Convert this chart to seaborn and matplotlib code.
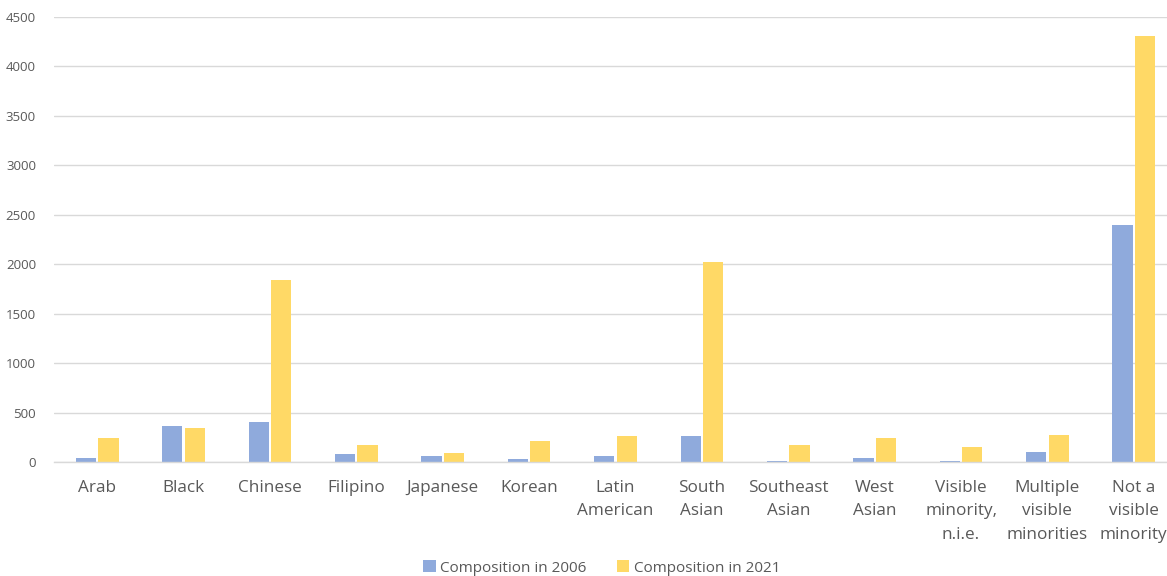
import matplotlib
matplotlib.use("Agg")
import matplotlib.pyplot as plt
import seaborn as sns
import pandas as pd

categories = ["Arab", "Black", "Chinese", "Filipino", "Japanese", "Korean",
              "Latin\nAmerican", "South\nAsian", "Southeast\nAsian", "West\nAsian",
              "Visible\nminority,\nn.i.e.", "Multiple\nvisible\nminorities",
              "Not a\nvisible\nminority"]
comp_2006 = [45, 360, 400, 77, 64, 33, 64, 263, 13, 43, 13, 97, 2400]
comp_2021 = [245, 340, 1845, 168, 87, 209, 263, 2020, 168, 243, 148, 276, 4310]
series_names = ["Composition in 2006", "Composition in 2021"]
y_ticks = [0, 500, 1000, 1500, 2000, 2500, 3000, 3500, 4000, 4500]

df = pd.DataFrame({
    "category": categories * 2,
    "value": comp_2006 + comp_2021,
    "series": [series_names[0]] * len(categories) + [series_names[1]] * len(categories),
})

sns.set_theme(style="white")
plt.rcParams["font.family"] = ["Open Sans", "DejaVu Sans"]

fig = plt.figure(figsize=(11.67, 5.76), dpi=100)
ax = fig.add_axes([54 / 1167, 1 - 462 / 576, (1177 - 54) / 1167, (462 - 17) / 576])

sns.barplot(data=df, x="category", y="value", hue="series",
            palette=["#8FAADC", "#FFD966"], width=0.52, gap=0.1,
            ax=ax, legend=True, saturation=1, linewidth=0)

ax.set_ylim(0, 4500)
ax.set_yticks(y_ticks)
ax.set_xlim(-0.5, len(categories) - 0.5)
ax.yaxis.grid(True, color="#D9D9D9", linewidth=1)
ax.set_axisbelow(True)
for s in ["top", "right", "left"]:
    ax.spines[s].set_visible(False)
ax.spines["bottom"].set_color("#D9D9D9")
ax.spines["bottom"].set_linewidth(1)
ax.set_xlabel("")
ax.set_ylabel("")
ax.tick_params(axis="y", length=0, pad=13, labelsize=9.5, labelcolor="#595959")
ax.tick_params(axis="x", length=0, pad=13, labelsize=12.3, labelcolor="#595959")
for lbl in ax.get_xticklabels():
    lbl.set_linespacing(1.62)

handles, labels = ax.get_legend_handles_labels()
ax.get_legend().remove()
fig.legend(handles, labels, loc="center", bbox_to_anchor=(602 / 1167, 1 - 568 / 576),
           ncol=2, frameon=False, fontsize=11, handlelength=0.8, handleheight=0.8,
           handletextpad=0.3, columnspacing=2.0, labelcolor="#595959")

fig.savefig("out.png", dpi=100)
